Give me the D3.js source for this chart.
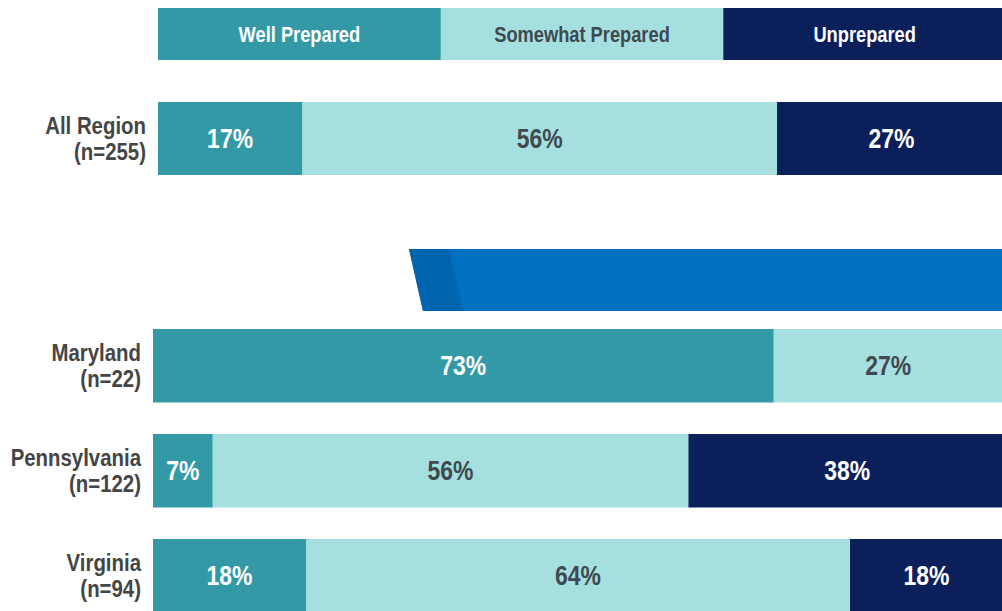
<!DOCTYPE html>
<html>
<head>
<meta charset="utf-8">
<script src="https://cdn.jsdelivr.net/npm/d3@7"></script>
<style>
  html, body { margin: 0; padding: 0; background: #fff; }
  svg { display: block; font-family: "Liberation Sans", Arial, sans-serif; font-weight: bold; }
</style>
</head>
<body>
<svg id="chart" width="1002" height="611"></svg>
<script>
const levels = ["Well Prepared", "Somewhat Prepared", "Unprepared"];
const colors = ["#3399a6", "#a6dfe0", "#0b1f5b"];
const textColors = ["#ffffff", "#3e4a4f", "#ffffff"];

const regions = ["Maryland", "Pennsylvania", "Virginia"];
const regionN = ["(n=22)", "(n=122)", "(n=94)"];
const wellPrepared = [73, 7, 18];
const somewhatPrepared = [27, 56, 64];
const unprepared = [0, 38, 18];

const allLabel = ["All Region", "(n=255)"];
const allValues = [17, 56, 27];

// narrow look: squeeze the text horizontally
const squeeze = 0.85;
const svg = d3.select("#chart");

// legend strip
const legendX = d3.scaleBand().domain(levels).range([158, 1006]);
const legend = svg.append("g").attr("class", "legend");
legend.selectAll("rect")
    .data(levels)
    .enter().append("rect")
    .attr("x", d => legendX(d))
    .attr("y", 8)
    .attr("width", legendX.bandwidth() + 0.5)
    .attr("height", 52)
    .attr("fill", (d, i) => colors[i]);
legend.selectAll("text")
    .data(levels)
    .enter().append("text")
    .attr("transform", d => `translate(${legendX(d) + legendX.bandwidth() / 2},34) scale(${squeeze},1)`)
    .attr("dy", ".36em")
    .attr("text-anchor", "middle")
    .style("font-size", "21.5px")
    .attr("fill", (d, i) => textColors[i])
    .text(d => d);

// helper: draw one stacked row
function drawRow(g, x, y0, h, values, label) {
    let acc = 0;
    const segs = values.map((v, i) => {
        const s = { i, v, start: acc, end: acc + v };
        acc += v;
        return s;
    }).filter(s => s.v > 0);

    g.selectAll("rect.seg")
        .data(segs)
        .enter().append("rect")
        .attr("class", "seg")
        .attr("x", d => x(d.start))
        .attr("y", y0)
        .attr("width", d => x(d.end) - x(d.start) + 0.5)
        .attr("height", h)
        .attr("fill", d => colors[d.i]);

    g.selectAll("text.pct")
        .data(segs)
        .enter().append("text")
        .attr("class", "pct")
        .attr("transform", d => `translate(${(x(d.start) + Math.min(x(d.end), 1006)) / 2},${y0 + h / 2}) scale(${squeeze},1)`)
        .attr("dy", ".36em")
        .attr("text-anchor", "middle")
        .style("font-size", "27px")
        .attr("fill", d => textColors[d.i])
        .text(d => d.v + "%");

    const lab = g.append("text")
        .attr("transform", `translate(${x.range()[0] - 12},${y0 + h / 2}) scale(${squeeze},1)`)
        .attr("text-anchor", "end")
        .attr("fill", "#454545")
        .style("font-size", "24px");
    lab.append("tspan").attr("x", 0).attr("y", -5).text(label[0]);
    lab.append("tspan").attr("x", 0).attr("y", 21).text(label[1]);
}

// All Region row
const xTop = d3.scaleLinear().domain([0, 100]).range([158, 1006]);
const yTop = d3.scaleBand().domain(["All Region"]).range([102, 175]);
drawRow(svg.append("g"), xTop, yTop("All Region"), yTop.bandwidth(), allValues, allLabel);

// blue banner
const banner = svg.append("g").attr("class", "banner");
banner.append("path")
    .attr("d", "M409,249 L1002,249 L1002,311 L423,311 Z")
    .attr("fill", "#0070c0");
banner.append("path")
    .attr("d", "M409,249 L449,249 L463,311 L423,311 Z")
    .attr("fill", "#0064ae");

// state rows
const xLow = d3.scaleLinear().domain([0, 100]).range([153, 1003]);
const yLow = d3.scaleBand().domain(regions).range([329, 612.5]).paddingInner(0.3).paddingOuter(0);
regions.forEach((r, i) => {
    drawRow(svg.append("g"), xLow, yLow(r), yLow.bandwidth(),
        [wellPrepared[i], somewhatPrepared[i], unprepared[i]], [r, regionN[i]]);
});
</script>
</body>
</html>
